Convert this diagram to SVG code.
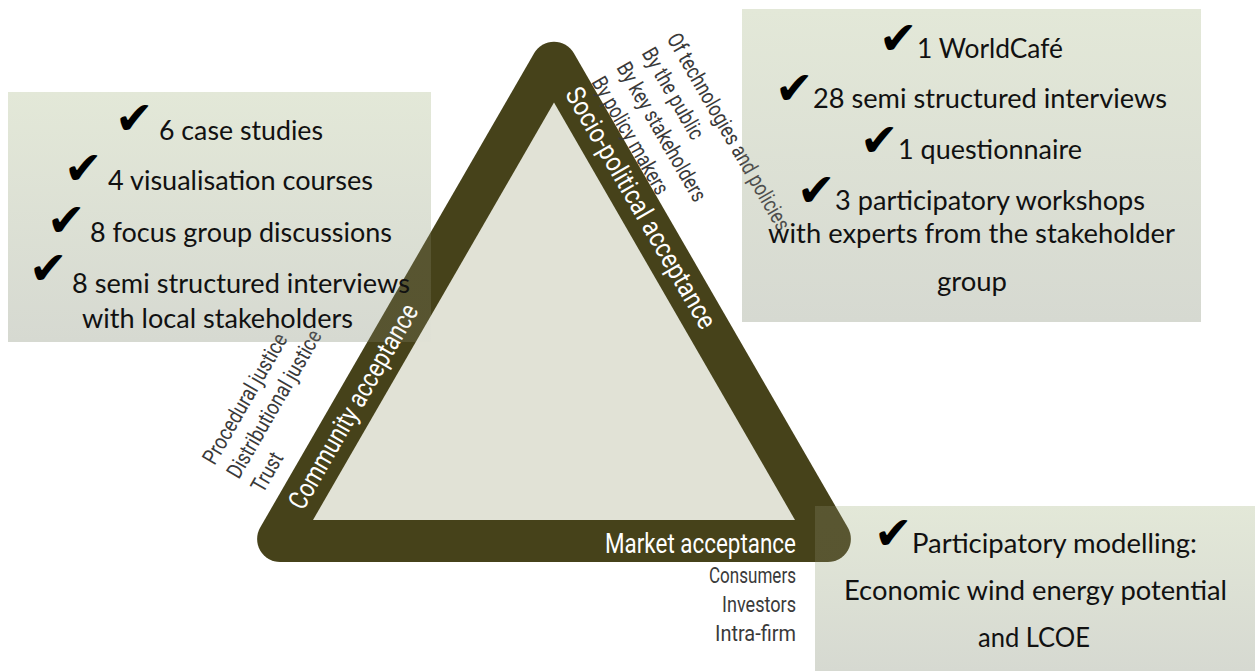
<svg xmlns="http://www.w3.org/2000/svg" width="1255" height="671" viewBox="0 0 1255 671">
<defs>
<linearGradient id="boxGrad" x1="0" y1="0" x2="0" y2="1">
<stop offset="0" stop-color="#e3e8d8"/>
<stop offset="1" stop-color="#d6d9d1"/>
</linearGradient>
<style>
.box{fill:url(#boxGrad)}
.tint{fill:url(#boxGrad);fill-opacity:0.12}
.t{font-family:Lato,"Open Sans",sans-serif;font-size:27px;fill:#111}
.ck{font-family:"DejaVu Sans",sans-serif;font-size:46px;fill:#000}
.band{font-family:Roboto,"Liberation Sans",sans-serif;font-size:27px;fill:#ffffff}
.lab{font-family:Roboto,"Liberation Sans",sans-serif;font-size:22px;fill:#3a3a3a}
</style>
</defs>
<rect width="1255" height="671" fill="#ffffff"/>
<g id="panel-backgrounds">
<rect class="box" x="8" y="92" width="423" height="250"/>
<rect class="box" x="742" y="9" width="459" height="313"/>
<rect class="box" x="815" y="506" width="440" height="165"/>
</g>
<g id="acceptance-triangle">
<path d="M534.1,53.2 A23,23 0 0 1 573.9,53.2 L847.8,527.5 A23,23 0 0 1 827.9,562 L280.1,562 A23,23 0 0 1 260.2,527.5 Z" fill="#46421a"/>
<polygon points="554,102.6 795,520 313,520" fill="#e1e2d6"/>
</g>
<g id="socio-political-acceptance">
<text class="band" transform="translate(633 212.5) rotate(60)" text-anchor="middle" textLength="274" lengthAdjust="spacingAndGlyphs">Socio-political acceptance</text>
<text class="lab" transform="translate(591 82) rotate(60)" textLength="132" lengthAdjust="spacingAndGlyphs">By policy makers</text>
<text class="lab" transform="translate(616.1 67.5) rotate(60)" textLength="157" lengthAdjust="spacingAndGlyphs">By key stakeholders</text>
<text class="lab" transform="translate(641.2 53) rotate(60)" textLength="102" lengthAdjust="spacingAndGlyphs">By the public</text>
<text class="lab" transform="translate(666.3 38.5) rotate(60)" textLength="224" lengthAdjust="spacingAndGlyphs">Of technologies and policies</text>
</g>
<g id="community-acceptance">
<text class="band" transform="translate(361 411) rotate(-60)" text-anchor="middle" textLength="232" lengthAdjust="spacingAndGlyphs">Community acceptance</text>
<text class="lab" transform="translate(263 494) rotate(-60)" textLength="42" lengthAdjust="spacingAndGlyphs">Trust</text>
<text class="lab" transform="translate(238.8 480) rotate(-60)" textLength="167" lengthAdjust="spacingAndGlyphs">Distributional justice</text>
<text class="lab" transform="translate(214.6 466) rotate(-60)" textLength="147" lengthAdjust="spacingAndGlyphs">Procedural justice</text>
</g>
<g id="market-acceptance">
<text class="band" x="796" y="553" text-anchor="end" textLength="191" lengthAdjust="spacingAndGlyphs">Market acceptance</text>
<text class="lab" x="796" y="583" text-anchor="end" textLength="87" lengthAdjust="spacingAndGlyphs">Consumers</text>
<text class="lab" x="796" y="612" text-anchor="end" textLength="74" lengthAdjust="spacingAndGlyphs">Investors</text>
<text class="lab" x="796" y="641" text-anchor="end" textLength="81" lengthAdjust="spacingAndGlyphs">Intra-firm</text>
</g>
<g id="community-methods">
<rect class="tint" x="8" y="92" width="423" height="250"/>
<text class="ck" x="115" y="134">✔</text>
<text class="t" x="159" y="140" textLength="164" lengthAdjust="spacingAndGlyphs">6 case studies</text>
<text class="ck" x="64" y="184">✔</text>
<text class="t" x="108" y="190" textLength="265" lengthAdjust="spacingAndGlyphs">4 visualisation courses</text>
<text class="ck" x="47" y="236">✔</text>
<text class="t" x="90" y="242" textLength="302" lengthAdjust="spacingAndGlyphs">8 focus group discussions</text>
<text class="ck" x="29" y="284">✔</text>
<text class="t" x="72" y="293" textLength="338" lengthAdjust="spacingAndGlyphs">8 semi structured interviews</text>
<text class="t" x="82" y="328" textLength="271" lengthAdjust="spacingAndGlyphs">with local stakeholders</text>
</g>
<g id="socio-political-methods">
<rect class="tint" x="742" y="9" width="459" height="313"/>
<text class="ck" x="879" y="54">✔</text>
<text class="t" x="917" y="58" textLength="146" lengthAdjust="spacingAndGlyphs">1 WorldCafé</text>
<text class="ck" x="775" y="104">✔</text>
<text class="t" x="813" y="108" textLength="354" lengthAdjust="spacingAndGlyphs">28 semi structured interviews</text>
<text class="ck" x="860" y="156">✔</text>
<text class="t" x="898" y="159" textLength="184" lengthAdjust="spacingAndGlyphs">1 questionnaire</text>
<text class="ck" x="797" y="206">✔</text>
<text class="t" x="835" y="210" textLength="310" lengthAdjust="spacingAndGlyphs">3 participatory workshops</text>
<text class="t" x="768" y="243" textLength="407" lengthAdjust="spacingAndGlyphs">with experts from the stakeholder</text>
<text class="t" x="937" y="291" textLength="70" lengthAdjust="spacingAndGlyphs">group</text>
</g>
<g id="market-methods">
<rect class="tint" x="815" y="506" width="440" height="165"/>
<text class="ck" x="874" y="549">✔</text>
<text class="t" x="912" y="553" textLength="285" lengthAdjust="spacingAndGlyphs">Participatory modelling:</text>
<text class="t" x="844" y="600" textLength="383" lengthAdjust="spacingAndGlyphs">Economic wind energy potential</text>
<text class="t" x="978" y="647" textLength="112" lengthAdjust="spacingAndGlyphs">and LCOE</text>
</g>
</svg>
